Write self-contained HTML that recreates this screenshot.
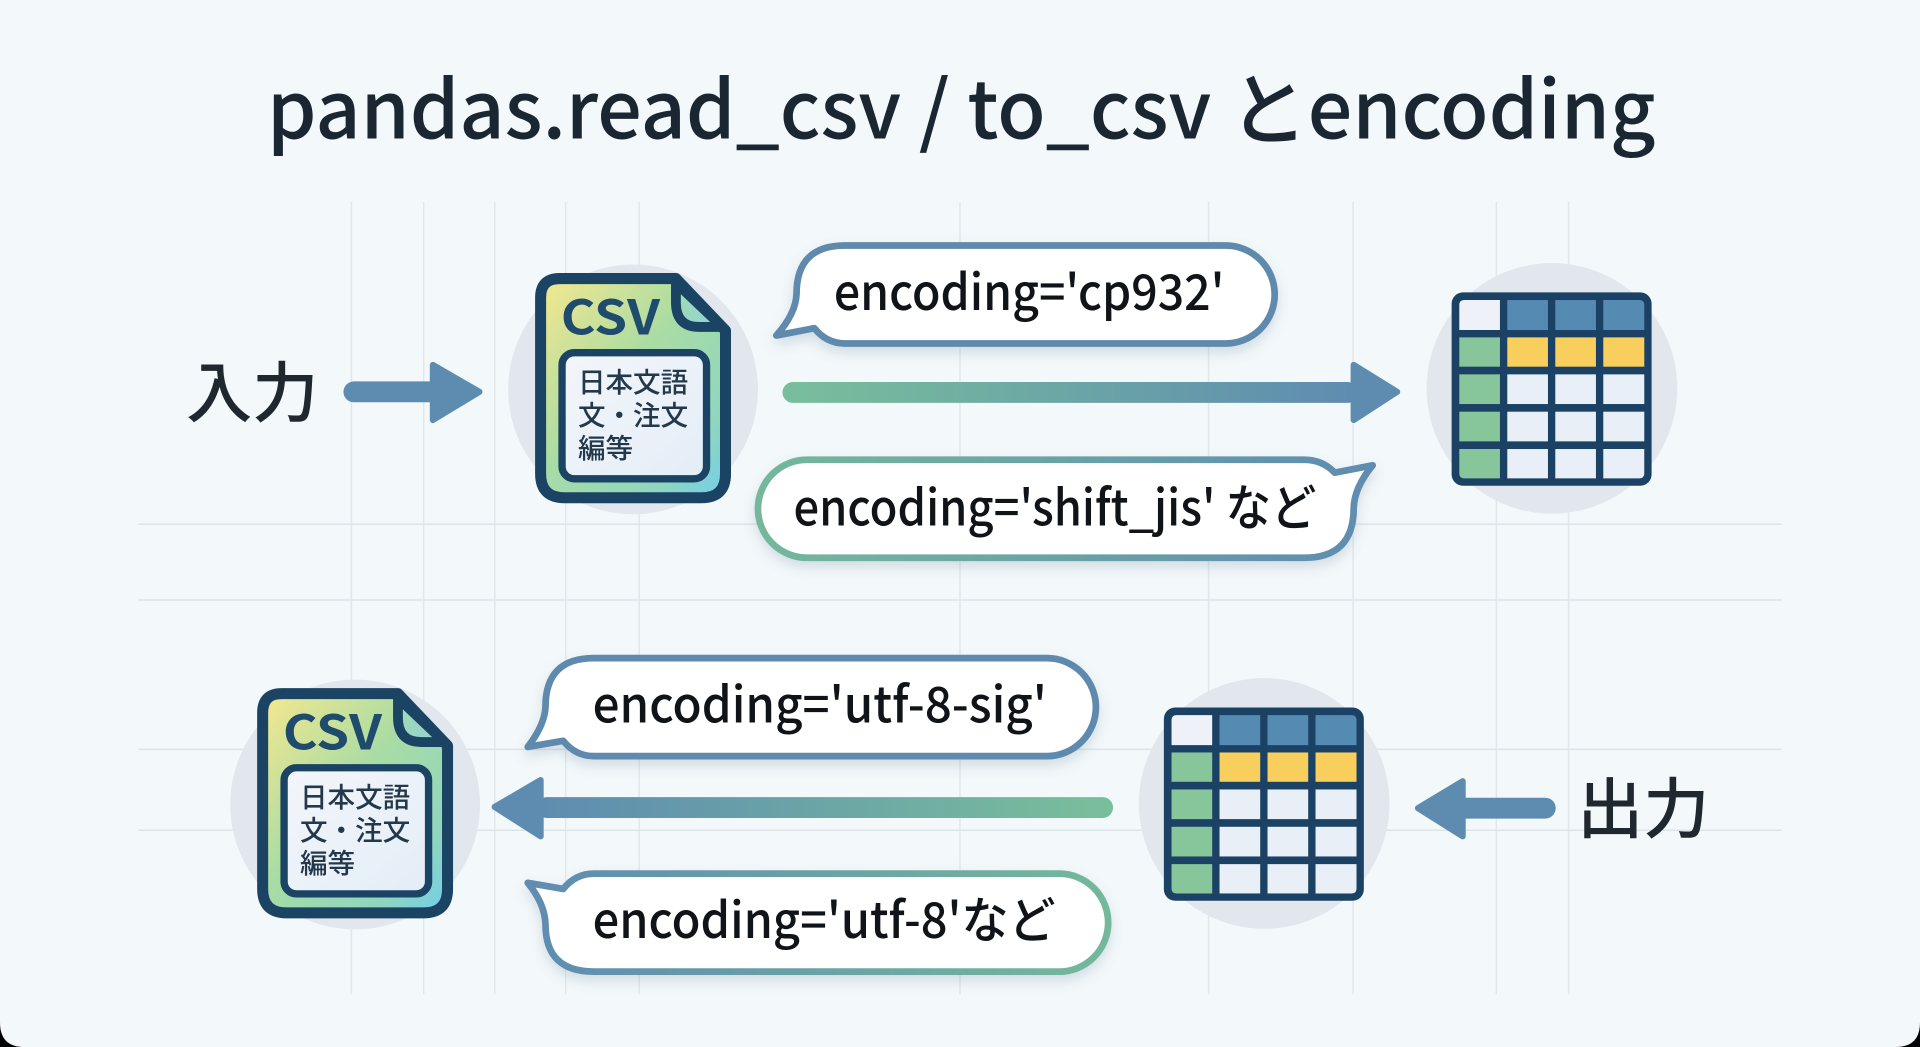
<!DOCTYPE html>
<html><head><meta charset="utf-8"><style>
html,body{margin:0;padding:0;background:#000;width:1920px;height:1047px;overflow:hidden}
svg{display:block}
text{font-family:"Noto Sans CJK JP","Liberation Sans",sans-serif}
</style></head><body>
<svg xmlns="http://www.w3.org/2000/svg" width="1920" height="1047" viewBox="0 0 1568 855.05">
<defs>
<linearGradient id="docg" x1="0" y1="0" x2="1" y2="1"><stop offset="0" stop-color="#f6e88e"/><stop offset=".45" stop-color="#a9dca4"/><stop offset=".8" stop-color="#8fd6bf"/><stop offset="1" stop-color="#73cdec"/></linearGradient>
<linearGradient id="foldg" x1="0" y1="0" x2="1" y2="1"><stop offset="0" stop-color="#a6dcae"/><stop offset="1" stop-color="#8fd2d4"/></linearGradient>
<linearGradient id="boxg" x1="0" y1="0" x2="1" y2="1"><stop offset="0" stop-color="#f3f6fa"/><stop offset="1" stop-color="#e3edf7"/></linearGradient>
<linearGradient id="a1" gradientUnits="userSpaceOnUse" x1="639" y1="0" x2="1105" y2="0"><stop offset="0" stop-color="#79bf9b"/><stop offset="1" stop-color="#5e8cb0"/></linearGradient>
<linearGradient id="a2" gradientUnits="userSpaceOnUse" x1="440" y1="0" x2="909" y2="0"><stop offset="0" stop-color="#5e8cb0"/><stop offset="1" stop-color="#79bf9b"/></linearGradient>
<linearGradient id="b1" gradientUnits="userSpaceOnUse" x1="617" y1="0" x2="1122" y2="0"><stop offset="0" stop-color="#74b89c"/><stop offset="1" stop-color="#5f8cb0"/></linearGradient>
<linearGradient id="b2" gradientUnits="userSpaceOnUse" x1="430" y1="0" x2="907" y2="0"><stop offset="0" stop-color="#5f8cb0"/><stop offset="1" stop-color="#74b89c"/></linearGradient>
<filter id="sh" x="-5%" y="-20%" width="110%" height="150%"><feDropShadow dx="0" dy="5" stdDeviation="5" flood-color="#5b7a90" flood-opacity=".22"/></filter>
<g id="doc">
  <circle cx="517" cy="318" r="102" fill="#e1e7ed"/>
  <path d="M457 227.500H552L592.500 270V387Q592.500 406.500 573 406.500H461Q441.500 406.500 441.500 387V243Q441.500 227.500 457 227.500Z" fill="url(#docg)" stroke="#1b4364" stroke-width="9" stroke-linejoin="round"/>
  <path d="M552 231L590 267H571Q552 267 552 247Z" fill="url(#foldg)" stroke="#1b4364" stroke-width="8" stroke-linejoin="round"/>
  <text x="458" y="273" font-size="39" font-weight="700" fill="#1f4b6c" textLength="81" lengthAdjust="spacingAndGlyphs">CSV</text>
  <rect x="459" y="288" width="118" height="103" rx="10" fill="url(#boxg)" stroke="#1b4364" stroke-width="6"/>
  <text x="472" y="320" font-size="22.5" font-weight="500" fill="#24384c">日本文語</text>
  <text x="472" y="347" font-size="22.5" font-weight="500" fill="#24384c">文・注文</text>
  <text x="472" y="374" font-size="22.5" font-weight="500" fill="#24384c">編等</text>
</g>
<g id="tbl">
  <g transform="translate(1143.3,204.2) scale(.2722)">
    <circle cx="456" cy="415" r="376" fill="#e1e7ed"/>
    <rect x="155" y="127" width="600" height="580" rx="34" fill="#1b4265"/>
    <path d="M178 165Q178 150 193 150H300V240H178Z" fill="#eef2f8"/>
    <rect x="322" y="150" width="122" height="90" fill="#558ab3"/>
    <rect x="466" y="150" width="122" height="90" fill="#558ab3"/>
    <path d="M610 150H718Q733 150 733 165V240H610Z" fill="#558ab3"/>
    <rect x="178" y="262" width="122" height="88" fill="#86c69a"/>
    <rect x="322" y="262" width="122" height="88" fill="#f8cf5c"/>
    <rect x="466" y="262" width="122" height="88" fill="#f8cf5c"/>
    <rect x="610" y="262" width="123" height="88" fill="#f8cf5c"/>
    <rect x="178" y="373" width="122" height="89" fill="#86c69a"/>
    <rect x="322" y="373" width="122" height="89" fill="#e9eff7"/>
    <rect x="466" y="373" width="122" height="89" fill="#e9eff7"/>
    <rect x="610" y="373" width="123" height="89" fill="#e9eff7"/>
    <rect x="178" y="485" width="122" height="89" fill="#86c69a"/>
    <rect x="322" y="485" width="122" height="89" fill="#e9eff7"/>
    <rect x="466" y="485" width="122" height="89" fill="#e9eff7"/>
    <rect x="610" y="485" width="123" height="89" fill="#e9eff7"/>
    <path d="M178 597H300V685H193Q178 685 178 670Z" fill="#86c69a"/>
    <rect x="322" y="597" width="122" height="88" fill="#e9eff7"/>
    <rect x="466" y="597" width="122" height="88" fill="#e9eff7"/>
    <path d="M610 597H733V670Q733 685 718 685H610Z" fill="#e9eff7"/>
  </g>
</g>
</defs>

<rect width="1568" height="855.05" fill="#000"/>
<path d="M0 0H1568V835Q1568 855.05 1548 855.05H20Q0 855.05 0 835Z" fill="#f3f8fa"/>

<g stroke="#e1e7eb" stroke-width="1.2" fill="none">
  <path d="M287 165V812M346 165V812M404 165V812M462 165V812M522 165V812M784 165V812M987 165V812M1105 165V812M1222 165V812M1281 165V812"/>
  <path d="M113 428H1455M113 490H1455M113 612H1455M113 678H1455" stroke="#dde4e8"/>
</g>

<text x="218" y="113" font-size="65" font-weight="500" fill="#1a2733" textLength="1134" lengthAdjust="spacingAndGlyphs">pandas.read_csv / to_csv とencoding</text>

<use href="#doc"/>
<use href="#tbl"/>
<use href="#doc" transform="translate(-227,339)"/>
<use href="#tbl" transform="translate(-235,339)"/>

<text x="152" y="340" font-size="54" font-weight="500" fill="#20282f">入力</text>
<path d="M289 320H356" stroke="#5e8cb0" stroke-width="17" stroke-linecap="round"/>
<path d="M353.500 298L391.500 320L353.500 343Z" fill="#5e8cb0" stroke="#5e8cb0" stroke-width="5" stroke-linejoin="round"/>

<rect x="639" y="312" width="470" height="17" rx="8.500" fill="url(#a1)"/>
<path d="M1105.500 298L1141 320L1105.500 343Z" fill="#5e8cb0" stroke="#5e8cb0" stroke-width="5" stroke-linejoin="round"/>

<text x="1288" y="680" font-size="54" font-weight="500" fill="#20282f">出力</text>
<path d="M1190 660H1262" stroke="#5e8cb0" stroke-width="17" stroke-linecap="round"/>
<path d="M1194.500 638L1158 660L1194.500 683Z" fill="#5e8cb0" stroke="#5e8cb0" stroke-width="5" stroke-linejoin="round"/>

<rect x="438" y="651" width="471" height="17" rx="8.500" fill="url(#a2)"/>
<path d="M441.500 637L404 659L441.500 683Z" fill="#5e8cb0" stroke="#5e8cb0" stroke-width="5" stroke-linejoin="round"/>

<!-- bubble 1 -->
<path filter="url(#sh)" d="M690 200.500H1001A39.500 39.500 0 0 1 1001 280.500H690Q675 280.500 665 268L634 274Q650 256 650.500 240Q650.500 200.500 690 200.500Z" fill="#fff" stroke="#5f8aad" stroke-width="5.500" stroke-linejoin="round"/>
<text x="681" y="253" font-size="40.500" font-weight="500" fill="#101317" textLength="319" lengthAdjust="spacingAndGlyphs">encoding='cp932'</text>

<!-- bubble 2 -->
<path filter="url(#sh)" d="M659 375.500H1065Q1080 375.500 1090 386L1121 380Q1106 398 1105.500 415Q1105.500 455.500 1065 455.500H659A40 40 0 0 1 659 375.500Z" fill="#fff" stroke="url(#b1)" stroke-width="5.500" stroke-linejoin="round"/>
<text x="648" y="429" font-size="40.500" font-weight="500" fill="#101317" textLength="427" lengthAdjust="spacingAndGlyphs">encoding='shift_jis' など</text>

<!-- bubble 3 -->
<path filter="url(#sh)" d="M485 537.500H855A40 40 0 0 1 855 617.500H485Q470 617.500 460 605L431 610Q445 592 445.500 577Q445.500 537.500 485 537.500Z" fill="#fff" stroke="#5f8aad" stroke-width="5.500" stroke-linejoin="round"/>
<text x="484" y="590" font-size="40.500" font-weight="500" fill="#101317" textLength="371" lengthAdjust="spacingAndGlyphs">encoding='utf-8-sig'</text>

<!-- bubble 4 -->
<path filter="url(#sh)" d="M485 713.500H865A40 40 0 0 1 865 793.500H485Q445.500 793.500 445.500 755Q445 738 431 721L460 726Q470 713.500 485 713.500Z" fill="#fff" stroke="url(#b2)" stroke-width="5.500" stroke-linejoin="round"/>
<text x="484" y="766" font-size="40.500" font-weight="500" fill="#101317" textLength="378" lengthAdjust="spacingAndGlyphs">encoding='utf-8'など</text>
</svg>
</body></html>
